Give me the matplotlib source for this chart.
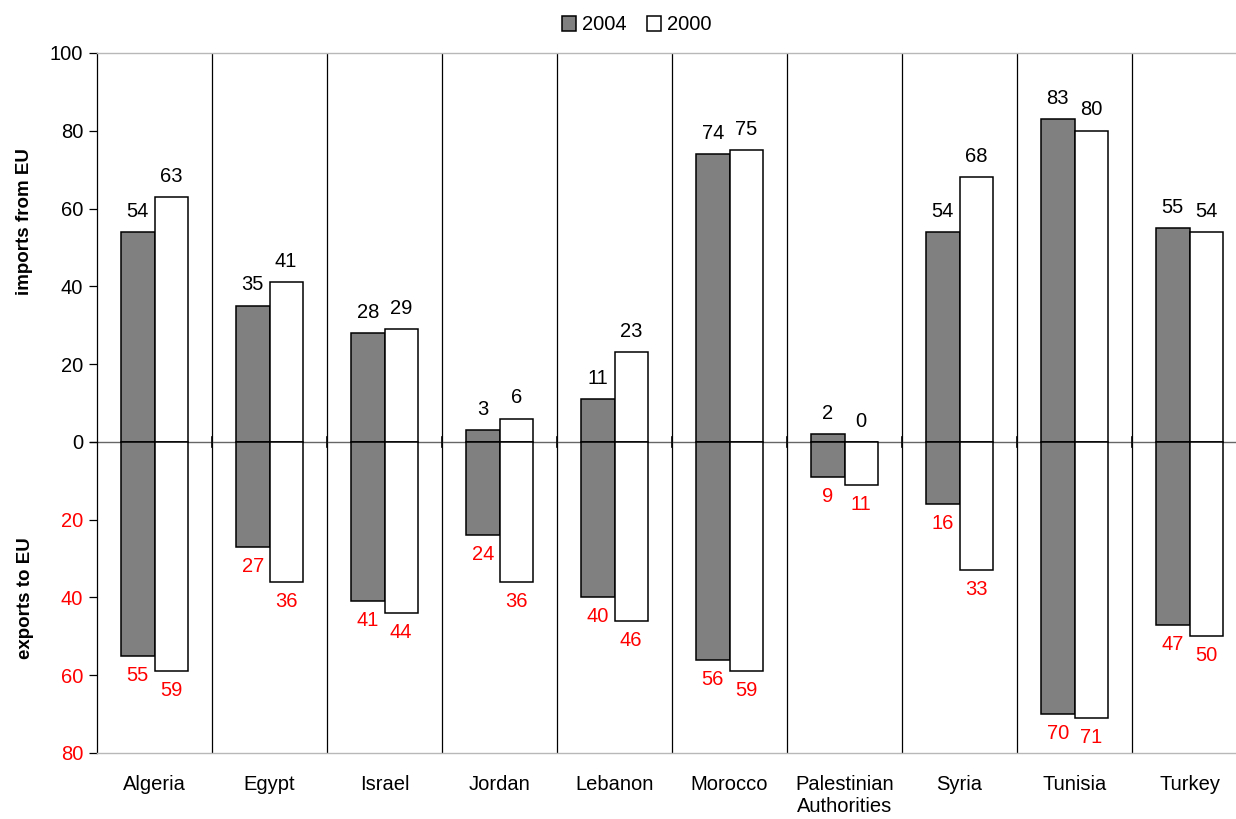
import matplotlib
matplotlib.use("Agg")
import matplotlib.pyplot as plt
import numpy as np

plt.rcParams['font.family'] = ['Liberation Sans', 'DejaVu Sans']

countries = ["Algeria", "Egypt", "Israel", "Jordan", "Lebanon", "Morocco",
             "Palestinian\nAuthorities", "Syria", "Tunisia", "Turkey"]
imports_2004 = [54, 35, 28, 3, 11, 74, 2, 54, 83, 55]
imports_2000 = [63, 41, 29, 6, 23, 75, 0, 68, 80, 54]
exports_2004 = [55, 27, 41, 24, 40, 56, 9, 16, 70, 47]
exports_2000 = [59, 36, 44, 36, 46, 59, 11, 33, 71, 50]
ytick_values = [100, 80, 60, 40, 20, 0, -20, -40, -60, -80]

W, H = 1236, 819
fig = plt.figure(figsize=(W / 100, H / 100), dpi=100)
ax = fig.add_axes([97 / W, 1 - 753 / H, 1150 / W, 700 / H])

x = np.arange(len(countries))
bw = 0.29
fs = 14.5
edge = dict(edgecolor='black', linewidth=1.1)

colors = {"2004": "#808080", "2000": "#ffffff"}
series = [("2004", -bw / 2, imports_2004, exports_2004),
          ("2000", bw / 2, imports_2000, exports_2000)]

for name, off, imp, exp in series:
    imp = np.array(imp, dtype=float)
    exp = np.array(exp, dtype=float)
    ax.bar(x + off, imp, bw, color=colors[name], zorder=3, label=name, **edge)
    ax.bar(x + off, -exp, bw, color=colors[name], zorder=3, **edge)
    for xi, v in zip(x + off, imp):
        ax.annotate(f"{v:.0f}", (xi, v), xytext=(0, 15), textcoords='offset points',
                    ha='center', va='center', fontsize=fs, color='black')
    for xi, v in zip(x + off, exp):
        ax.annotate(f"{v:.0f}", (xi, -v), xytext=(0, -14), textcoords='offset points',
                    ha='center', va='center', fontsize=fs, color='red')

ax.set_xlim(-0.5, len(countries) - 0.5)
ax.set_ylim(-80, 100)

# category separators, zero line and its small crossing ticks
for b in np.arange(0.5, len(countries) - 0.5, 1):
    ax.axvline(b, color='black', linewidth=0.9, zorder=1)
ax.axhline(0, color='#666666', linewidth=1.0, zorder=2)
ax.plot([-0.56, -0.5], [0, 0], color='black', linewidth=0.9, clip_on=False, zorder=2)
for b in np.arange(0.5, len(countries) - 0.5, 1):
    ax.plot([b, b], [-1.2, 1.2], color='black', linewidth=1.2, zorder=2)

ax.set_yticks(ytick_values)
ax.set_yticklabels([str(abs(v)) for v in ytick_values], fontsize=fs)
for lbl, v in zip(ax.get_yticklabels(), ytick_values):
    lbl.set_color('red' if v < 0 else 'black')
ax.tick_params(axis='y', direction='out', length=6, width=0.9, pad=4)

ax.set_xticks(x)
ax.set_xticklabels(countries, fontsize=fs, linespacing=1.2)
ax.tick_params(axis='x', length=0, pad=16)

ax.spines['left'].set_color('black')
ax.spines['left'].set_linewidth(0.9)
ax.spines['right'].set_visible(False)
for s in ('top', 'bottom'):
    ax.spines[s].set_color('#b8b8b8')
    ax.spines[s].set_linewidth(1.0)

fig.text(25 / W, 1 - 222 / H, "imports from EU", rotation=90, ha='center', va='center',
         fontsize=13.5, fontweight='bold')
fig.text(25 / W, 1 - 598 / H, "exports to EU", rotation=90, ha='center', va='center',
         fontsize=13.5, fontweight='bold')

fig.legend(loc='center', bbox_to_anchor=(637 / W, 1 - 25 / H), ncol=2, frameon=False,
           fontsize=fs, handlelength=0.7, handleheight=0.7, handletextpad=0.3,
           columnspacing=1.0)

fig.savefig("out.png", dpi=100)
